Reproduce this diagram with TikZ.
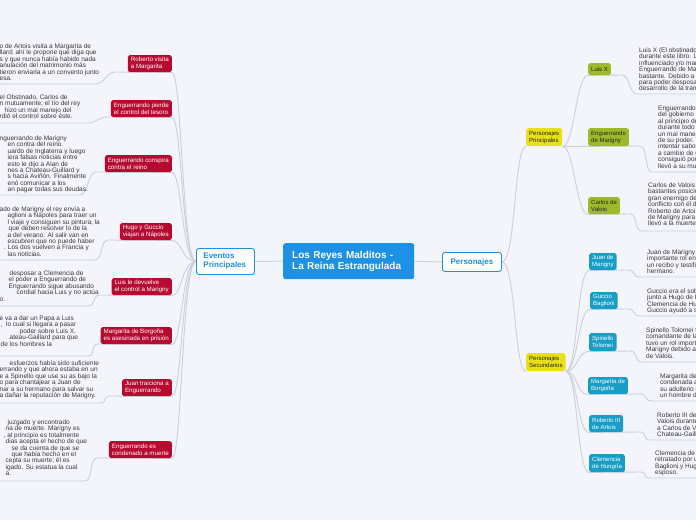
\documentclass[tikz,border=0pt]{standalone}
\usepackage{fontspec}
\setmainfont{Liberation Sans}
\pgfdeclarelayer{back}
\pgfdeclarelayer{lines}
\pgfsetlayers{back,lines,main}
\definecolor{bg}{RGB}{244,245,251}
\definecolor{lineC}{RGB}{203,207,220}
\definecolor{redC}{RGB}{183,10,48}
\definecolor{blueC}{RGB}{28,145,230}
\definecolor{greenC}{RGB}{158,186,42}
\definecolor{tealC}{RGB}{24,158,198}
\definecolor{yelC}{RGB}{232,225,26}
\definecolor{txtC}{RGB}{55,55,60}
\definecolor{txtD}{RGB}{35,35,35}
\newcommand\leaffont{\fontsize{6.5}{6.45}\selectfont}
\newcommand\boxfont{\fontsize{6.2}{7.2}\selectfont}
\newcommand\smallboxfont{\fontsize{6}{7}\selectfont}
\begin{document}
\begin{tikzpicture}[x=1pt,y=-1pt,
  conn/.style={draw=lineC,line width=0.9pt},
  redbox/.style={anchor=north east,fill=redC,text=white,font=\boxfont,align=left,inner xsep=3pt,inner ysep=1.5pt,minimum height=17pt,rounded corners=1.8pt},
  sidebox/.style={anchor=north west,font=\smallboxfont,align=left,inner xsep=3pt,inner ysep=1.5pt,minimum height=17pt,rounded corners=1.8pt},
  greenbox/.style={sidebox,fill=greenC,text=txtD},
  tealbox/.style={sidebox,fill=tealC,text=white},
  yelbox/.style={sidebox,fill=yelC,text=txtD,minimum height=18pt},
  leaf/.style={anchor=north west,inner sep=0pt,font=\leaffont,align=left,text=txtC},
]
\useasboundingbox (0,0) rectangle (696,520);
\begin{pgfonlayer}{back}
\fill[bg] (0,0) rectangle (696,520);
\end{pgfonlayer}

% central and first level
\node[anchor=north west,fill=blueC,text=white,font=\fontsize{10}{11}\selectfont\bfseries,align=left,text width=113pt,inner xsep=9pt,inner ysep=2pt,minimum width=131pt,minimum height=36pt,rounded corners=2.5pt] (mn) at (283,243) {Los Reyes Malditos -\\La Reina Estrangulada};
\node[anchor=north west,fill=white,draw=blueC,line width=0.9pt,text=blueC,font=\fontsize{8}{9.2}\selectfont\bfseries,align=left,text width=44pt,inner xsep=7pt,inner ysep=1pt,minimum width=58pt,minimum height=26pt,rounded corners=2.5pt] (ev) at (196,248) {Eventos\\Principales};
\node[anchor=north west,fill=white,draw=blueC,line width=0.9pt,text=blueC,font=\fontsize{8}{9.2}\selectfont\bfseries,inner xsep=4pt,inner ysep=1pt,minimum width=59pt,minimum height=19pt,rounded corners=2.5pt] (pe) at (442,252) {Personajes};

% left: red boxes
\node[redbox] (r1) at (172,55) {Roberto visita\\a Margarita};
\node[redbox] (r2) at (172,100) {Enguerrando pierde\\el control del tesoro};
\node[redbox] (r3) at (172,155) {Enguerrando conspira\\contra el reino};
\node[redbox] (r4) at (172,223) {Hugo y Guccio\\viajan a Nápoles};
\node[redbox] (r5) at (172,278) {Luis le devuelve\\el control a Marigny};
\node[redbox] (r6) at (172,327) {Margarita de Borgoña\\es asesinada en prisión};
\node[redbox] (r7) at (172,379) {Juan traiciona a\\Enguerrando};
\node[redbox] (r8) at (172,441) {Enguerrando es\\condenado a muerte};

% left: texts
\node[leaf] (l1) at (-0.5,43.3) {o de Artois visita a Margarita de\\llard; ahí le propone que diga que\\s y que nunca había habido nada\\anulación del matrimonio más\\tieron enviarla a un convento junto\\esa.};
\node[leaf] (l2) at (-0.5,94.3) {el Obstinado, Carlos de\\n mutuamente; el tío del rey\\\hspace*{5pt}hizo un mal manejo del\\rdió el control sobre éste.};
\node[leaf] (l3) at (-0.5,135.3) {nguerrando de Marigny\\\hspace*{8pt}en contra del reino.\\\hspace*{8pt}uardo de Inglaterra y luego\\\hspace*{8pt}iera falsas noticias entre\\\hspace*{8pt}esto le dijo a Alan de\\\hspace*{8pt}nes a Chateau-Guillard y\\\hspace*{8pt}s hacia Aviñón. Finalmente\\\hspace*{8pt}enó comunicar a los\\\hspace*{8pt}an pagar todas sus deudas.};
\node[leaf] (l4) at (-0.5,206.3) {ado de Marigny el rey envía a\\\hspace*{8pt}aglioni a Nápoles para traer un\\\hspace*{8pt}l viaje y consiguen su pintura; la\\\hspace*{9pt}que deben resolver lo de la\\\hspace*{8pt}a del verano. Al salir van en\\\hspace*{8pt}escubren que no puede haber\\\hspace*{4pt}. Los dos vuelven a Francia y\\\hspace*{8pt}las noticias.};
\node[leaf] (l5) at (-0.5,270.3) {\hspace*{10pt}desposar a Clemencia de\\\hspace*{9pt}el poder a Enguerrando de\\\hspace*{9pt}Enguerrando sigue abusando\\\hspace*{17pt}cordial hacia Luis y no actúa\\o.};
\node[leaf] (l6) at (-0.5,315.3) {e va a dar un Papa a Luis\\\hspace*{1pt},\ \ lo cual si llegara a pasar\\\hspace*{20pt}poder sobre Luis X.\\\hspace*{10pt}ateau-Gaillard para que\\\hspace*{1pt}de los hombres la};
\node[leaf] (l7) at (-0.5,360.3) {\hspace*{10pt}esfuerzos había sido suficiente\\errando y que ahora estaba en un\\e a Spinello que use su as bajo la\\o para chantajear a Juan de\\nar a su hermano para salvar su\\a dañar la reputación de Marigny.};
\node[leaf] (l8) at (-0.5,419.3) {\hspace*{8pt}juzgado y encontrado\\\hspace*{6pt}na de muerte. Marigny es\\\hspace*{4pt}, al principio es totalmente\\\hspace*{6pt}dias acepta el hecho de que\\\hspace*{12pt}se da cuenta de que se\\\hspace*{12pt}que había hecho en el\\\hspace*{6pt}cepta su muerte; él es\\\hspace*{6pt}igado. Su estatua la cual\\\hspace*{6pt}a.};

% right: yellow
\node[yelbox] (y1) at (526,128) {Personajes\\Principales};
\node[yelbox] (y2) at (526,353) {Personajes\\Secundarios};
% right: green
\node[greenbox,minimum height=12pt] (g1) at (588,63) {Luis X};
\node[greenbox,minimum height=18pt] (g2) at (588,128) {Enguerrando\\de Marigny};
\node[greenbox] (g3) at (588,197) {Carlos de\\Valois};
% right: teal
\node[tealbox] (t1) at (589,253) {Juan de\\Marigny};
\node[tealbox] (t2) at (590,292) {Guccio\\Baglioni};
\node[tealbox,minimum height=18pt] (t3) at (589,333) {Spinello\\Tolomei};
\node[tealbox] (t4) at (588,377) {Margarita de\\Borgoña};
\node[tealbox] (t5) at (589,415) {Roberto III\\de Artois};
\node[tealbox,minimum height=18pt] (t6) at (589,454) {Clemencia\\de Hungría};

% right: texts
\node[leaf] (p1) at (639,47.3) {Luis X (El obstinado)\\durante este libro. L\\influenciado y/o mar\\Enguerrando de Mari\\bastante. Debido a e\\para poder desposar\\desarrollo de la tram};
\node[leaf] (p2) at (658,105.3) {Enguerrando\\del gobierno c\\al principio de\\durante todo\\un mal manej\\de su poder. E\\intentar sabot\\a cambio de u\\consiguió pon\\llevó a su mue};
\node[leaf] (p3) at (648,182.3) {Carlos de Valois f\\bastantes posicio\\gran enemigo de\\conflicto con él d\\Roberto de Artois\\de Marigny para\\llevó a la muerte};
\node[leaf] (p4) at (647,249.3) {Juan de Marigny f\\importante rol en\\un recibo y testifi\\hermano.};
\node[leaf] (p5) at (647,288.3) {Guccio era el sobr\\junto a Hugo de B\\Clemencia de Hun\\Guccio ayudó a su};
\node[leaf] (p6) at (646,327.3) {Spinello Tolomei f\\comandante de la\\tuvo un rol import\\Marigny debido a s\\de Valois.};
\node[leaf] (p7) at (660,373.3) {Margarita de\\condenada a\\su adulterio e\\un hombre de};
\node[leaf] (p8) at (657,412.3) {Roberto III de\\Valois durante\\a Carlos de Va\\Chateau-Gaill};
\node[leaf] (p9) at (655,450.3) {Clemencia de H\\retratado por u\\Baglioni y Hug\\esposo.};

\begin{pgfonlayer}{lines}
\draw[conn] (ev.east) -- (mn.west);
\draw[conn] (mn.east) -- (pe.west);
% left tree
\draw[conn] (ev.west) .. controls +(-14,0) and +(10,0) .. (r1.south east) -- (115,72) .. controls +(-8,0) and +(8,0) .. (96,84) -- (-3,84);
\draw[conn] (ev.west) .. controls +(-14,0) and +(10,0) .. (r2.south east) -- (107,117) .. controls +(-8,0) and +(8,0) .. (88,123) -- (-3,123);
\draw[conn] (ev.west) .. controls +(-14,0) and +(10,0) .. (r3.south east) -- (96,172) .. controls +(-8,0) and +(8,0) .. (80,195) -- (-3,195);
\draw[conn] (ev.west) .. controls +(-14,0) and +(10,0) .. (r4.south east) -- (108,240) .. controls +(-8,0) and +(8,0) .. (95,260) -- (-3,260);
\draw[conn] (ev.west) .. controls +(-14,0) and +(10,0) .. (r5.south east) -- (100,295) .. controls +(-8,0) and +(8,0) .. (88,306) -- (-3,306);
\draw[conn] (ev.west) .. controls +(-14,0) and +(10,0) .. (r6.south east) -- (98,344) .. controls +(-8,0) and +(8,0) .. (88,356) -- (-3,356);
\draw[conn] (ev.west) .. controls +(-14,0) and +(10,0) .. (r7.south east) -- (110,396) .. controls +(-8,0) and +(8,0) .. (100,403) -- (-3,403);
\draw[conn] (ev.west) .. controls +(-14,0) and +(10,0) .. (r8.south east) -- (97,458) .. controls +(-8,0) and +(8,0) .. (85,481) -- (-3,481);
% right tree
\draw[conn] (pe.east) .. controls +(14,0) and +(-12,0) .. (y1.south west);
\draw[conn] (pe.east) .. controls +(14,0) and +(-12,0) .. (y2.south west);
\foreach \g in {g1,g2,g3}{
  \draw[conn] (y1.south east) .. controls +(12,0) and +(-12,0) .. (\g.south west);
}
\foreach \t in {t1,t2,t3,t4,t5,t6}{
  \draw[conn] (y2.south east) .. controls +(12,0) and +(-12,0) .. (\t.south west);
}
\draw[conn] (g1.south west) -- (622,75) .. controls +(8,0) and +(-8,0) .. (637,94) -- (700,94);
\draw[conn] (g2.south west) -- (640,146) .. controls +(8,0) and +(-8,0) .. (652,172) -- (700,172);
\draw[conn] (g3.south west) -- (630,214) .. controls +(8,0) and +(-8,0) .. (642,231) -- (700,231);
\draw[conn] (t1.south west) -- (628,270) .. controls +(8,0) and +(-8,0) .. (640,277) -- (700,277);
\draw[conn] (t2.south west) -- (628,309) .. controls +(8,0) and +(-8,0) .. (640,316) -- (700,316);
\draw[conn] (t3.south west) -- (630,351) .. controls +(8,0) and +(-8,0) .. (642,362) -- (700,362);
\draw[conn] (t4.south west) -- (640,394) .. controls +(8,0) and +(-8,0) .. (652,401) -- (700,401);
\draw[conn] (t5.south west) -- (640,432) .. controls +(8,0) and +(-8,0) .. (650,440) -- (700,440);
\draw[conn] (t6.south west) -- (640,472) .. controls +(8,0) and +(-8,0) .. (650,478) -- (700,478);
\end{pgfonlayer}
\end{tikzpicture}
\end{document}
